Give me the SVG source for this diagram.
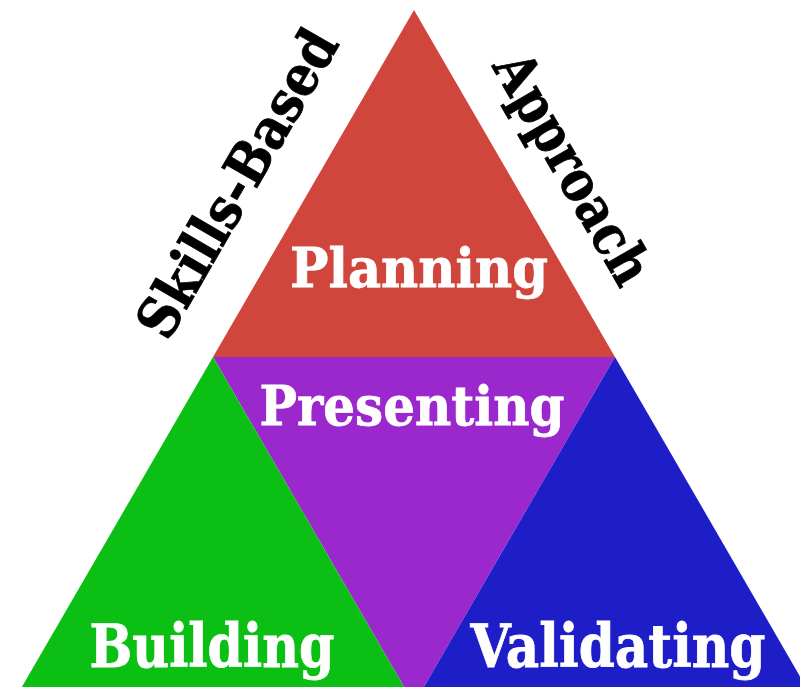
<svg xmlns="http://www.w3.org/2000/svg" width="800" height="687" viewBox="0 0 800 687">
<style>
.lbl{font-family:"DejaVu Serif","Liberation Serif",serif;font-weight:bold;fill:#ffffff;stroke:#ffffff;stroke-width:0.8;text-anchor:middle}
.side{font-family:"DejaVu Serif","Liberation Serif",serif;font-weight:bold;fill:#000000;stroke:#000000;stroke-width:0.8;text-anchor:middle}
</style>
<rect width="800" height="687" fill="#ffffff"/>
<g id="planning">
<polygon points="414,10 213,357 615,357" fill="#D0463C"/>
<text class="lbl" x="419" y="287" font-size="55" textLength="258" lengthAdjust="spacingAndGlyphs">Planning</text>
</g>
<g id="presenting">
<polygon points="213,357 615,357 414,704" fill="#9B28CD"/>
<text class="lbl" x="412" y="425" font-size="55" textLength="305" lengthAdjust="spacingAndGlyphs">Presenting</text>
</g>
<g id="building">
<polygon points="213,357 414,704 12,704" fill="#0CBF14"/>
<text class="lbl" x="212" y="667" font-size="60" textLength="245" lengthAdjust="spacingAndGlyphs">Building</text>
</g>
<g id="validating">
<polygon points="615,357 816,704 414,704" fill="#1E1EC8"/>
<text class="lbl" x="618" y="667" font-size="60" textLength="295" lengthAdjust="spacingAndGlyphs">Validating</text>
</g>
<g id="skills-based">
<text class="side" transform="translate(254,193) rotate(-60)" x="0" y="0" font-size="56" textLength="345" lengthAdjust="spacingAndGlyphs">Skills-Based</text>
</g>
<g id="approach">
<text class="side" transform="translate(556,178) rotate(60)" x="0" y="0" font-size="56" textLength="258" lengthAdjust="spacingAndGlyphs">Approach</text>
</g>
<g id="connectors"/>
</svg>
